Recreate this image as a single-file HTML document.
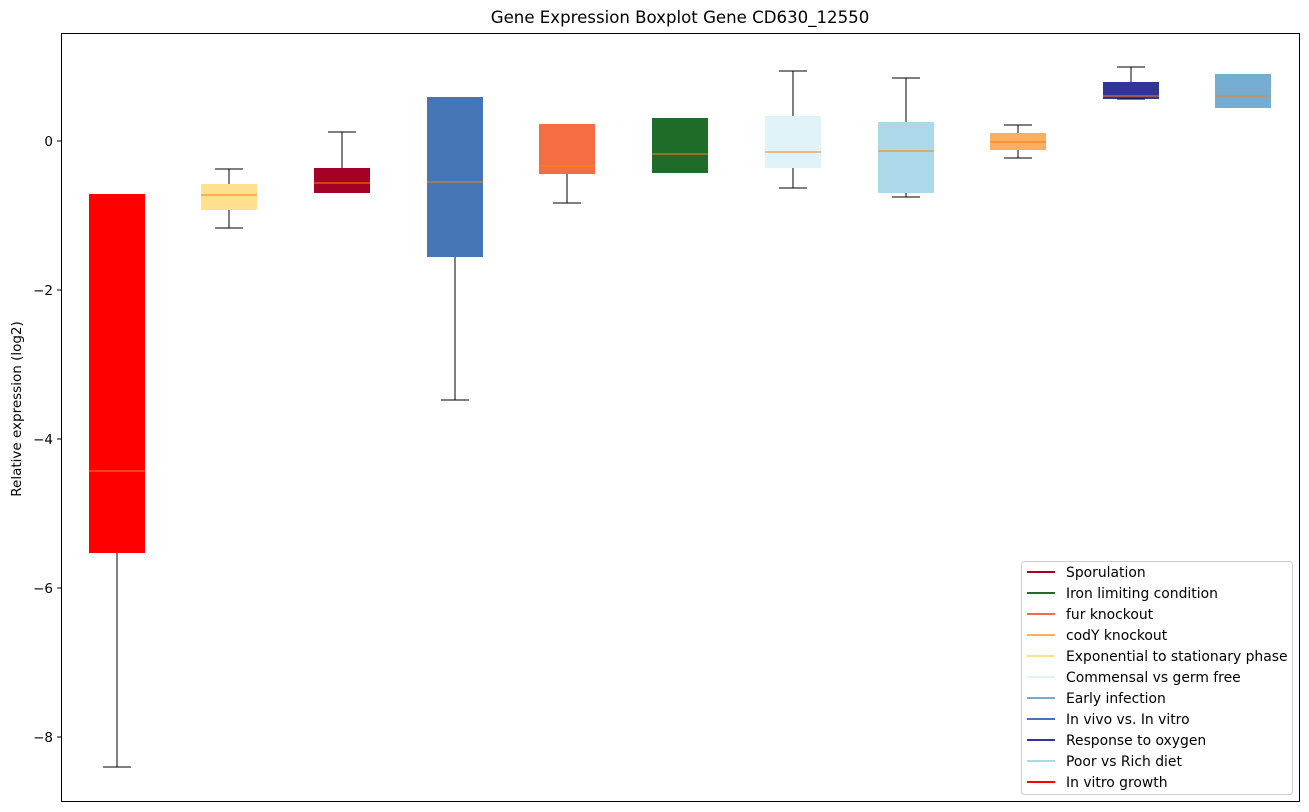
<!DOCTYPE html><html><head><style>body{margin:0;background:#fff}svg{display:block;font-family:"DejaVu Sans","Liberation Sans",sans-serif}</style></head><body>
<svg width="1309" height="812" viewBox="0 0 1309 812">
<text x="680" y="23" font-size="16.6" text-anchor="middle" fill="#000">Gene Expression Boxplot Gene CD630_12550</text>
<g>
<rect x="89" y="194" width="56" height="359" fill="#ff0000"/>
<rect x="201" y="184" width="56" height="26" fill="#fee090"/>
<rect x="314" y="168" width="56" height="25" fill="#a50026"/>
<rect x="427" y="97" width="56" height="160" fill="#4575b4"/>
<rect x="539" y="124" width="56" height="50" fill="#f46d43"/>
<rect x="652" y="118" width="56" height="55" fill="#1f6b2a"/>
<rect x="765" y="116" width="56" height="52" fill="#e0f3f8"/>
<rect x="878" y="122" width="56" height="71" fill="#abd9e9"/>
<rect x="990" y="133" width="56" height="17" fill="#fdae61"/>
<rect x="1103" y="82" width="56" height="17" fill="#313695"/>
<rect x="1215" y="74" width="56" height="34" fill="#74add1"/>
</g>
<g stroke="#000" stroke-width="1" fill="none">
<line x1="117" y1="553" x2="117" y2="767"/><line x1="103" y1="767" x2="131" y2="767"/>
<line x1="229" y1="169" x2="229" y2="184"/><line x1="215" y1="169" x2="243" y2="169"/>
<line x1="229" y1="210" x2="229" y2="228"/><line x1="215" y1="228" x2="243" y2="228"/>
<line x1="342" y1="132" x2="342" y2="168"/><line x1="328" y1="132" x2="356" y2="132"/>
<line x1="455" y1="257" x2="455" y2="400"/><line x1="441" y1="400" x2="469" y2="400"/>
<line x1="567" y1="174" x2="567" y2="203"/><line x1="553" y1="203" x2="581" y2="203"/>
<line x1="793" y1="71" x2="793" y2="116"/><line x1="779" y1="71" x2="807" y2="71"/>
<line x1="793" y1="168" x2="793" y2="188"/><line x1="779" y1="188" x2="807" y2="188"/>
<line x1="906" y1="78" x2="906" y2="122"/><line x1="892" y1="78" x2="920" y2="78"/>
<line x1="906" y1="193" x2="906" y2="197"/><line x1="892" y1="197" x2="920" y2="197"/>
<line x1="1018" y1="125" x2="1018" y2="133"/><line x1="1004" y1="125" x2="1032" y2="125"/>
<line x1="1018" y1="150" x2="1018" y2="158"/><line x1="1004" y1="158" x2="1032" y2="158"/>
<line x1="1131" y1="67" x2="1131" y2="82"/><line x1="1117" y1="67" x2="1145" y2="67"/>
<line x1="1117" y1="99" x2="1145" y2="99"/>
</g>
<g stroke="#ff7f0e" stroke-width="1">
<line x1="89" y1="471" x2="145" y2="471"/><line x1="201" y1="195" x2="257" y2="195"/>
<line x1="314" y1="183" x2="370" y2="183"/><line x1="427" y1="182" x2="483" y2="182"/>
<line x1="539" y1="166" x2="595" y2="166"/><line x1="652" y1="154" x2="708" y2="154"/>
<line x1="765" y1="152" x2="821" y2="152"/><line x1="878" y1="151" x2="934" y2="151"/>
<line x1="990" y1="142" x2="1046" y2="142"/><line x1="1103" y1="96" x2="1159" y2="96"/>
<line x1="1215" y1="96" x2="1271" y2="96"/>
</g>
<rect x="61.5" y="33.5" width="1238" height="768" fill="none" stroke="#000"/>
<g font-size="13.5" text-anchor="end" fill="#000">
<line x1="57" y1="141" x2="61" y2="141" stroke="#000"/><text x="53" y="146">0</text>
<line x1="57" y1="290" x2="61" y2="290" stroke="#000"/><text x="53" y="295">−2</text>
<line x1="57" y1="439" x2="61" y2="439" stroke="#000"/><text x="53" y="444">−4</text>
<line x1="57" y1="588" x2="61" y2="588" stroke="#000"/><text x="53" y="593">−6</text>
<line x1="57" y1="737" x2="61" y2="737" stroke="#000"/><text x="53" y="742">−8</text>
</g>
<text transform="translate(21,409) rotate(-90)" font-size="13.5" text-anchor="middle">Relative expression (log2)</text>
<rect x="1021.5" y="561.5" width="271" height="233" rx="3" fill="#fff" stroke="#ccc"/>
<g font-size="13.9" fill="#000" stroke-width="2">
<line x1="1027" y1="572" x2="1055" y2="572" stroke="#a50026"/><text x="1066" y="577">Sporulation</text>
<line x1="1027" y1="593" x2="1055" y2="593" stroke="#1f6b2a"/><text x="1066" y="598">Iron limiting condition</text>
<line x1="1027" y1="614" x2="1055" y2="614" stroke="#f46d43"/><text x="1066" y="619">fur knockout</text>
<line x1="1027" y1="635" x2="1055" y2="635" stroke="#fdae61"/><text x="1066" y="640">codY knockout</text>
<line x1="1027" y1="656" x2="1055" y2="656" stroke="#fee090"/><text x="1066" y="661">Exponential to stationary phase</text>
<line x1="1027" y1="677" x2="1055" y2="677" stroke="#e0f3f8"/><text x="1066" y="682">Commensal vs germ free</text>
<line x1="1027" y1="698" x2="1055" y2="698" stroke="#74add1"/><text x="1066" y="703">Early infection</text>
<line x1="1027" y1="719" x2="1055" y2="719" stroke="#4575b4"/><text x="1066" y="724">In vivo vs. In vitro</text>
<line x1="1027" y1="740" x2="1055" y2="740" stroke="#313695"/><text x="1066" y="745">Response to oxygen</text>
<line x1="1027" y1="761" x2="1055" y2="761" stroke="#abd9e9"/><text x="1066" y="766">Poor vs Rich diet</text>
<line x1="1027" y1="782" x2="1055" y2="782" stroke="#ff0000"/><text x="1066" y="787">In vitro growth</text>
</g>
</svg></body></html>
